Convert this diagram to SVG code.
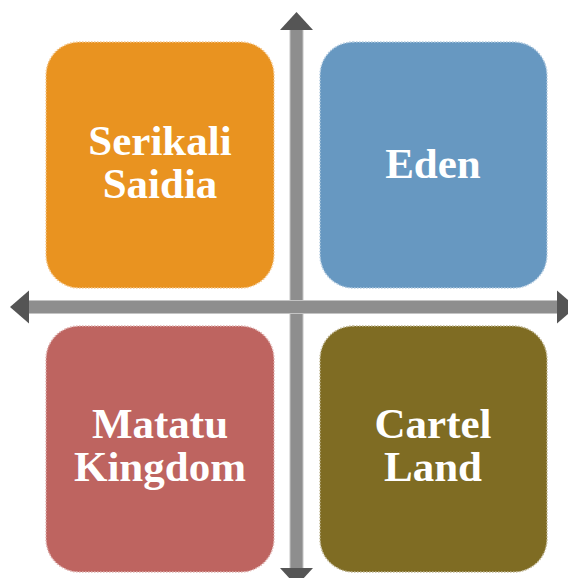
<svg xmlns="http://www.w3.org/2000/svg" width="568" height="578" viewBox="0 0 568 578">
<style>
.box{stroke-width:1.5;stroke-dasharray:1.5 1.5}
.lbl{font-family:"Liberation Serif","DejaVu Serif",serif;font-weight:bold;font-size:43px;fill:#fff;text-anchor:middle}
.shaft{fill:#8e8e8e;stroke:#c4c4c4;stroke-width:1}
.head{fill:#555}
</style>
<rect width="568" height="578" fill="#fff"/>
<g id="axes">
<rect class="shaft" x="290" y="28" width="13" height="542"/>
<rect class="shaft" x="28" y="300.5" width="531" height="13"/>
<polygon class="head" points="296.5,12 313,30 280,30"/>
<polygon class="head" points="296.5,586 313,568 280,568"/>
<polygon class="head" points="10,307 29,290.5 29,323.5"/>
<polygon class="head" points="576,307 557,290.5 557,323.5"/>
</g>
<g id="serikali">
<rect class="box" x="46" y="42" width="228" height="246" rx="33" fill="#e99320" stroke="#f4c88e"/>
<text class="lbl" x="160" y="155">Serikali</text>
<text class="lbl" x="160" y="198">Saidia</text>
</g>
<g id="eden">
<rect class="box" x="320" y="42" width="227" height="246" rx="33" fill="#6798c1" stroke="#b3cbe0"/>
<text class="lbl" x="433" y="178">Eden</text>
</g>
<g id="matatu">
<rect class="box" x="46" y="326" width="228" height="246" rx="33" fill="#be6460" stroke="#dfb1af"/>
<text class="lbl" x="160" y="438">Matatu</text>
<text class="lbl" x="160" y="481">Kingdom</text>
</g>
<g id="cartel">
<rect class="box" x="320" y="326" width="227" height="246" rx="33" fill="#7f6c23" stroke="#bfb591"/>
<text class="lbl" x="433" y="438">Cartel</text>
<text class="lbl" x="433" y="481">Land</text>
</g>
</svg>
